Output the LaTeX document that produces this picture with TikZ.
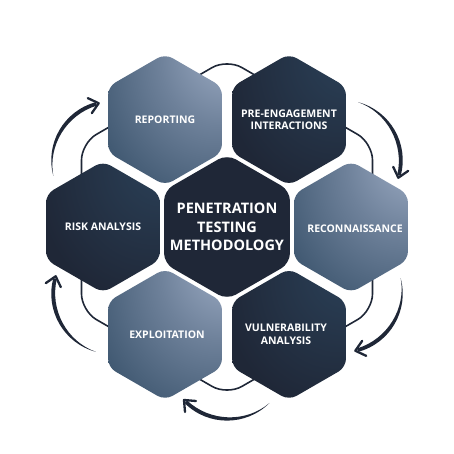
\documentclass[tikz,border=0pt]{standalone}
\usepackage{fontspec}
\setmainfont{Open Sans}
\usetikzlibrary{shapes.geometric,calc}

\definecolor{navy}{HTML}{1F2737}
\definecolor{glowlight}{HTML}{A8B6CE}
\definecolor{glowmid}{HTML}{6E819A}
\definecolor{glowdark}{HTML}{304A63}
\definecolor{deepmid}{HTML}{2C435B}
\definecolor{deepdark}{HTML}{1E2636}

\pgfdeclareradialshading{lightglow}{\pgfpoint{32bp}{32bp}}{color(0bp)=(glowlight); color(26bp)=(glowmid); color(58bp)=(glowdark); color(100bp)=(glowdark)}
\pgfdeclareradialshading{darkglow}{\pgfpoint{30bp}{30bp}}{color(0bp)=(deepmid); color(45bp)=(navy); color(100bp)=(deepdark)}

\begin{document}
\begin{tikzpicture}[x=1pt, y=1pt,
    hexcell/.style={regular polygon, regular polygon sides=6, shape border rotate=30,
        minimum size=131.6pt, inner sep=0pt, rounded corners=8.5pt},
    lightcell/.style={hexcell, shade, shading=lightglow},
    darkcell/.style={hexcell, shade, shading=darkglow},
    celltext/.style={text=white, align=center, font=\bfseries\fontsize{10.5}{12.7}\selectfont},
    ring/.style={draw=navy, line width=1.6pt, rounded corners=17pt}]
    \useasboundingbox (0,0) rectangle (454,454);
    \coordinate (hub) at (227,227);
    % outline running behind the outer cells
    \node[ring, regular polygon, regular polygon sides=6, shape border rotate=30,
        minimum size=336pt, inner sep=0pt] (loop) at (hub) {};
    % cells
    \node[hexcell, fill=navy, minimum size=145.4pt, rounded corners=10pt] (core) at (hub) {};
    \foreach \ang/\id/\tone in {120/report/lightcell, 60/preeng/darkcell, 0/recon/lightcell,
        -60/vuln/darkcell, -120/exploit/lightcell, 180/risk/darkcell}
        \node[\tone] (\id) at ($(hub)+(\ang:124)$) {};
    % labels
    \node[celltext, font=\bfseries\fontsize{14.5}{18.3}\selectfont] (core-t) at (core) {PENETRATION\\TESTING\\METHODOLOGY};
    \node[celltext] (report-t) at (report) {REPORTING};
    \node[celltext] (preeng-t) at (preeng) {PRE-ENGAGEMENT\\INTERACTIONS};
    \node[celltext] (recon-t) at ([xshift=4pt,yshift=-2pt]recon.center) {RECONNAISSANCE};
    \node[celltext] (vuln-t) at ([xshift=-3pt]vuln.center) {VULNERABILITY\\ANALYSIS};
    \node[celltext] (exploit-t) at ([xshift=2pt]exploit.center) {EXPLOITATION};
    \node[celltext] (risk-t) at (risk) {RISK ANALYSIS};
    % clockwise arrows round the outside
    \foreach \c in {150,30,-30,-90,-150} {
        \begin{scope}[shift={($(hub)+(\c:176)$)}, rotate=\c-90]
            \fill[navy] (-42.5,0) .. controls (-19,23.5) and (19,23.5) .. (42.5,0)
                -- (40,-2.5) .. controls (17,19) and (-19,20) .. (-42.5,0) -- cycle;
            \draw[navy, line width=2.3pt, line cap=round, line join=round] (42,9) -- (43,-3) -- (31,-2);
        \end{scope}
    }
\end{tikzpicture}
\end{document}
